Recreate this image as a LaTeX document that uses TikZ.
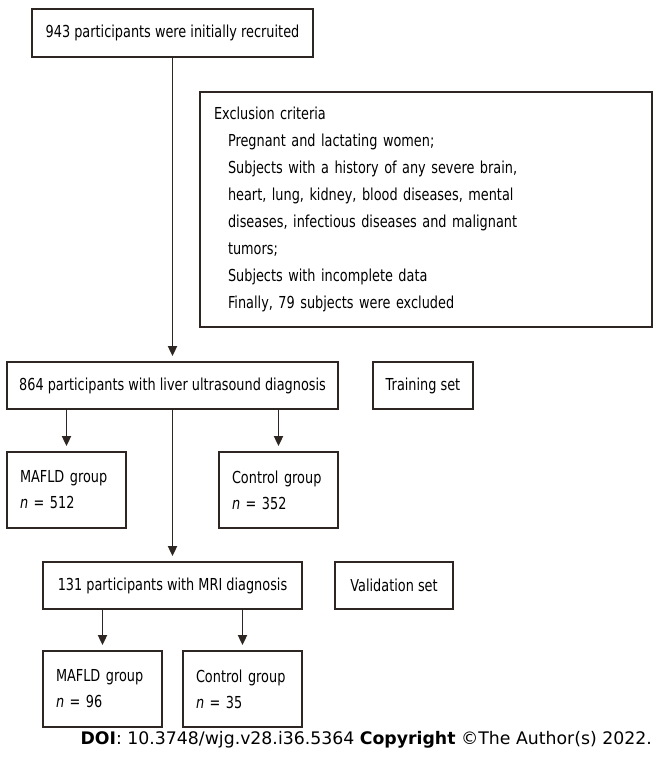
\documentclass[tikz,border=0pt]{standalone}
\usepackage{fontspec}
\setmainfont{DejaVu Sans}
\newfontfamily\narrowfont[FakeStretch=0.78]{DejaVu Sans}
\usetikzlibrary{arrows.meta}
\definecolor{boxline}{RGB}{45,38,34}

\begin{document}
\begin{tikzpicture}[x=1pt, y=-1pt,
    box/.style={draw=boxline, line width=1.8pt, inner sep=0pt, minimum height=47pt,
        font=\narrowfont\fontsize{16.5}{27}\selectfont},
    grp/.style={box, minimum width=119pt, minimum height=76pt, align=left, text width=93pt,
        font=\narrowfont\fontsize{16.5}{26}\selectfont},
    arr/.style={draw=boxline, line width=1.8pt, -{Triangle[length=10pt,width=9pt]}, shorten >=5pt}]
    \useasboundingbox (0,0) rectangle (654,758);

    % Recruitment and exclusion
    \node[box, minimum width=281pt, minimum height=48pt] (init) at (172.5,33) {943 participants were initially recruited};
    \node[box, minimum width=452pt, minimum height=235pt, align=left, text width=424pt] (excl) at (426,209.5)
        {Exclusion criteria\\
         \hspace*{14pt}Pregnant and lactating women;\\
         \hspace*{14pt}Subjects with a history of any severe brain,\\
         \hspace*{14pt}heart, lung, kidney, blood diseases, mental\\
         \hspace*{14pt}diseases, infectious diseases and malignant\\
         \hspace*{14pt}tumors;\\
         \hspace*{14pt}Subjects with incomplete data\\
         \hspace*{14pt}Finally, 79 subjects were excluded};

    % Training set
    \node[box, minimum width=331pt] (us) at (172.5,385.5) {864 participants with liver ultrasound diagnosis};
    \node[box, minimum width=100pt] (train) at (423,385.5) {Training set};
    \node[grp] (mafld1) at (66.5,490) {MAFLD group\\\textit{n} = 512};
    \node[grp] (ctrl1) at (278.5,490) {Control group\\\textit{n} = 352};

    % Validation set
    \node[box, minimum width=259pt] (mri) at (172.5,585.5) {131 participants with MRI diagnosis};
    \node[box, minimum width=118pt] (valid) at (394,585.5) {Validation set};
    \node[grp] (mafld2) at (102.5,689) {MAFLD group\\\textit{n} = 96};
    \node[grp] (ctrl2) at (242.5,689) {Control group\\\textit{n} = 35};

    \draw[arr] (init.south) -- (us.north);
    \draw[arr] (us.south -| mafld1.north) -- (mafld1.north);
    \draw[arr] (us.south -| ctrl1.north) -- (ctrl1.north);
    \draw[arr] (us.south) -- (mri.north);
    \draw[arr] (mri.south -| mafld2.north) -- (mafld2.north);
    \draw[arr] (mri.south -| ctrl2.north) -- (ctrl2.north);

    \node[anchor=east, inner sep=0pt, font=\fontsize{17.3}{20}\selectfont] (doi) at (652,740)
        {\textbf{DOI}: 10.3748/wjg.v28.i36.5364 \textbf{Copyright} ©The Author(s) 2022.};
\end{tikzpicture}
\end{document}
